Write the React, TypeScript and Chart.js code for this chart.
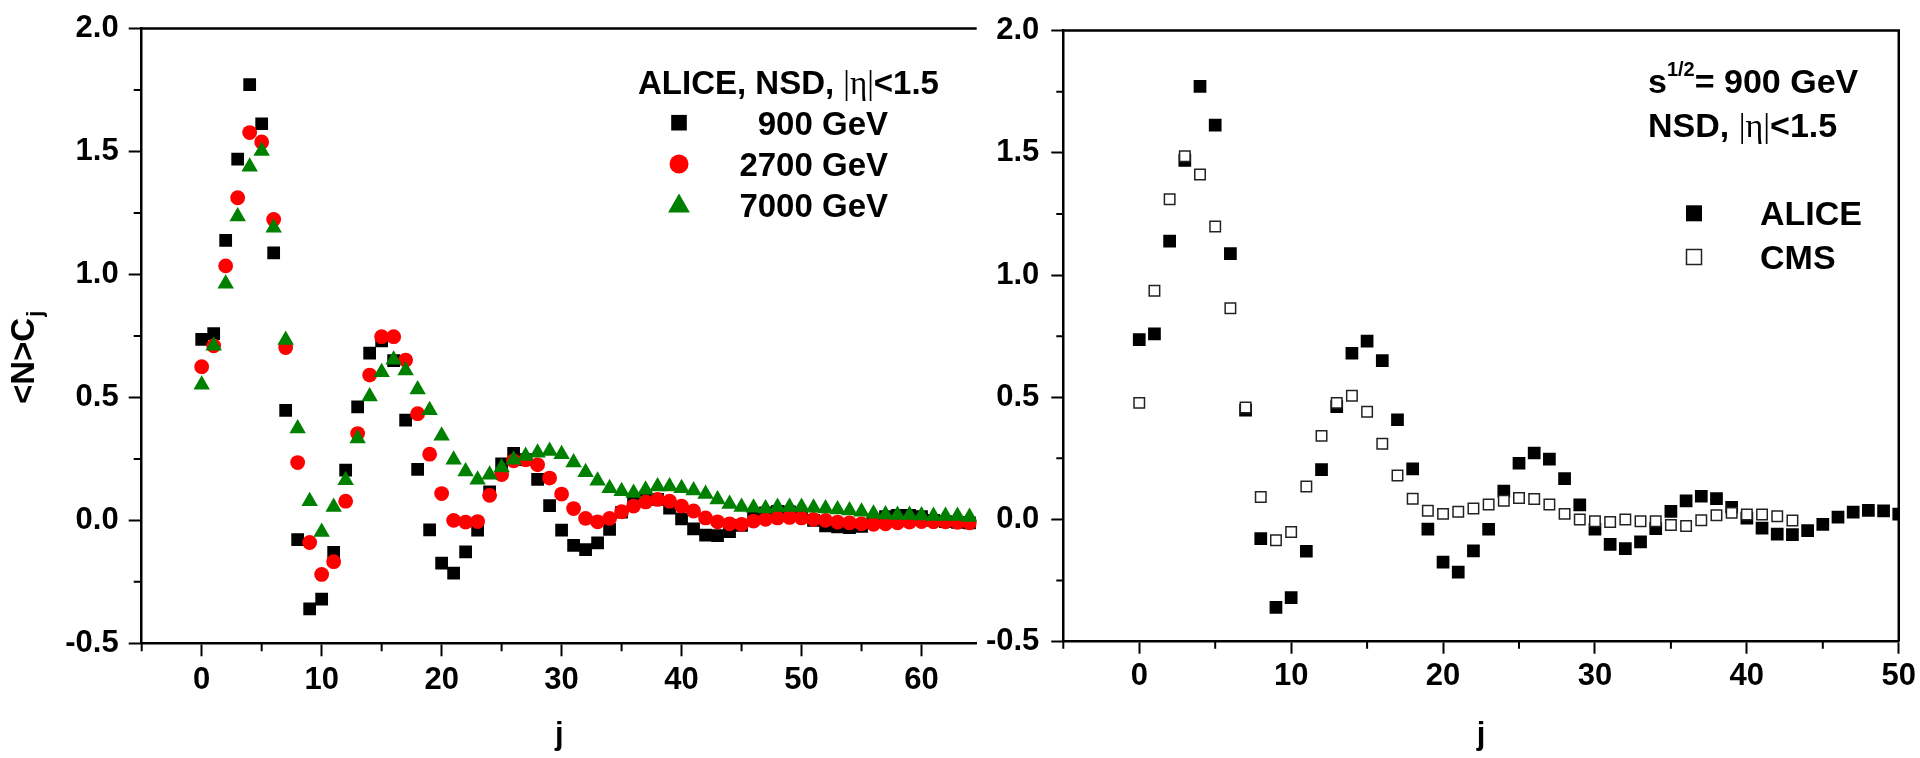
import React, { useEffect, useRef } from 'react';
import { Chart, registerables } from 'chart.js';

Chart.register(...registerables);

const FONT = "'Liberation Sans', Arial, Helvetica, sans-serif";
const SERIF = "'Liberation Serif', 'Times New Roman', serif";

// <N>C_j values, index = j
const ALICE_900 = [
  0.736, 0.759, 1.139, 1.469, 1.772, 1.613, 1.088, 0.447, -0.078, -0.36,
  -0.32, -0.13, 0.204, 0.462, 0.68, 0.73, 0.65, 0.408, 0.207, -0.039,
  -0.174, -0.215, -0.128, -0.04, 0.116, 0.23, 0.272, 0.247, 0.167, 0.06,
  -0.04, -0.102, -0.119, -0.092, -0.037, 0.033, 0.076, 0.095, 0.085, 0.05,
  0.006, -0.035, -0.06, -0.062, -0.046, -0.02, 0.01, 0.03, 0.037, 0.035,
  0.022, 0.0, -0.022, -0.027, -0.03, -0.025, -0.005, 0.015, 0.02, 0.02,
  0.015, 0.0, -0.005, -0.008, -0.01,
];

const ALICE_2700 = [
  0.625, 0.71, 1.035, 1.312, 1.577, 1.539, 1.224, 0.703, 0.235, -0.09,
  -0.22, -0.168, 0.078, 0.353, 0.591, 0.747, 0.747, 0.652, 0.434, 0.269,
  0.109, 0.0, -0.007, -0.005, 0.102, 0.186, 0.242, 0.246, 0.226, 0.172,
  0.107, 0.048, 0.008, -0.006, 0.008, 0.035, 0.058, 0.075, 0.085, 0.078,
  0.058, 0.038, 0.01, -0.006, -0.014, -0.016, -0.003, 0.004, 0.01, 0.012,
  0.01, 0.004, 0.0, -0.007, -0.01, -0.014, -0.016, -0.014, -0.01, -0.007,
  -0.005, -0.006, -0.006, -0.008, -0.01,
];

const ALICE_7000 = [
  0.552, 0.71, 0.962, 1.236, 1.438, 1.502, 1.19, 0.734, 0.374, 0.078,
  -0.047, 0.054, 0.163, 0.333, 0.504, 0.602, 0.653, 0.609, 0.532, 0.448,
  0.344, 0.246, 0.199, 0.165, 0.186, 0.215, 0.246, 0.262, 0.275, 0.282,
  0.269, 0.235, 0.196, 0.161, 0.131, 0.118, 0.111, 0.125, 0.138, 0.138,
  0.131, 0.121, 0.107, 0.085, 0.067, 0.054, 0.051, 0.048, 0.054, 0.054,
  0.054, 0.051, 0.048, 0.044, 0.04, 0.035, 0.027, 0.024, 0.022, 0.022,
  0.02, 0.018, 0.018, 0.018, 0.014,
];

const CMS_900 = [
  0.477, 0.936, 1.31, 1.486, 1.411, 1.199, 0.864, 0.458, 0.092, -0.085,
  -0.051, 0.135, 0.342, 0.477, 0.506, 0.441, 0.31, 0.18, 0.085, 0.036,
  0.023, 0.032, 0.045, 0.061, 0.077, 0.088, 0.084, 0.061, 0.023, 0.0,
  -0.007, -0.01, 0.0, -0.007, -0.007, -0.023, -0.027, -0.003, 0.017, 0.027,
  0.02, 0.02, 0.013, -0.004,
];

const LEFT_SERIES_LABELS = ['900 GeV', '2700 GeV', '7000 GeV'];
const LEFT_TITLE = ['ALICE, NSD, ', '|\u03b7|', '<1.5'];
const RIGHT_SERIES_LABELS = ['ALICE', 'CMS'];
const RIGHT_MAX_J = 50;

const X_STEP = 5;
const X_LABEL_STEP = 10;
const Y_MIN = -0.5;
const Y_MAX = 2.0;
const Y_STEP = 0.25;

const toXY = (vals: number[]) => vals.map((v, i) => ({ x: i, y: v }));

const isMajorX = (v: number) => Math.abs(v / X_LABEL_STEP - Math.round(v / X_LABEL_STEP)) < 1e-6;
const isMajorY = (v: number) => Math.abs(v * 2 - Math.round(v * 2)) < 1e-6;

const tickFont = { family: FONT, size: 31, weight: 'bold' as const };

function xScale(min: number, max: number, height: number, pad: number, tl: number) {
  return {
    type: 'linear',
    min,
    max,
    afterFit: (s: any) => {
      s.height = height;
    },
    ticks: {
      stepSize: X_STEP,
      includeBounds: false,
      autoSkip: false,
      maxRotation: 0,
      padding: pad,
      color: '#000',
      font: tickFont,
      callback: (v: any) => (isMajorX(Number(v)) ? String(Math.round(Number(v))) : ''),
    },
    grid: {
      display: true,
      drawOnChartArea: false,
      drawTicks: true,
      tickLength: tl,
      tickWidth: 2,
      color: 'rgba(0,0,0,0)',
      tickColor: (c: any) => (c.tick && isMajorX(c.tick.value) ? '#000' : 'rgba(0,0,0,0)'),
    },
    border: { display: true, color: '#000', width: 2.5 },
    title: {
      display: true,
      text: 'j',
      color: '#000',
      font: { family: FONT, size: 31, weight: 'bold' as const },
      padding: { top: 0, bottom: 4 },
    },
  };
}

function yScale(width: number, pad: number, tl: number) {
  return {
    type: 'linear',
    min: Y_MIN,
    max: Y_MAX,
    afterFit: (s: any) => {
      s.width = width;
    },
    ticks: {
      stepSize: Y_STEP,
      includeBounds: false,
      autoSkip: false,
      padding: pad,
      color: '#000',
      font: tickFont,
      callback: (v: any) => (isMajorY(Number(v)) ? Number(v).toFixed(1) : ''),
    },
    grid: {
      display: true,
      drawOnChartArea: false,
      drawTicks: true,
      tickLength: tl,
      tickWidth: 2,
      color: 'rgba(0,0,0,0)',
      tickColor: (c: any) => (c.tick && isMajorY(c.tick.value) ? '#000' : 'rgba(0,0,0,0)'),
    },
    border: { display: true, color: '#000', width: 2.5 },
  };
}

type Seg = { t: string; font: string; dy?: number };
function drawSegs(ctx: CanvasRenderingContext2D, segs: Seg[], x: number, y: number) {
  let cx = x;
  for (const s of segs) {
    ctx.font = s.font;
    ctx.fillText(s.t, cx, y + (s.dy || 0));
    cx += ctx.measureText(s.t).width;
  }
}

function drawFrameAndMinor(chart: any, rightBorder: boolean, minorLen: number) {
  const ctx: CanvasRenderingContext2D = chart.ctx;
  const { left, right, top, bottom } = chart.chartArea;
  ctx.save();
  ctx.strokeStyle = '#000';
  ctx.lineWidth = 2.5;
  ctx.beginPath();
  ctx.moveTo(left - 1.25, top);
  ctx.lineTo(right + (rightBorder ? 1.25 : 0), top);
  if (rightBorder) {
    ctx.moveTo(right, top);
    ctx.lineTo(right, bottom);
  }
  ctx.stroke();

  ctx.lineWidth = 2;
  ctx.beginPath();
  const xs = chart.scales.x;
  xs.ticks.forEach((t: any) => {
    if (!isMajorX(t.value)) {
      const px = xs.getPixelForValue(t.value);
      ctx.moveTo(px, bottom);
      ctx.lineTo(px, bottom + minorLen);
    }
  });
  const ys = chart.scales.y;
  ys.ticks.forEach((t: any) => {
    if (!isMajorY(t.value)) {
      const py = ys.getPixelForValue(t.value);
      ctx.moveTo(left, py);
      ctx.lineTo(left - minorLen, py);
    }
  });
  ctx.stroke();
  ctx.restore();
}

const leftDecor = {
  id: 'leftDecor',
  afterDraw(chart: any) {
    drawFrameAndMinor(chart, false, 8);
    const ctx: CanvasRenderingContext2D = chart.ctx;
    ctx.save();
    ctx.fillStyle = '#000';
    ctx.textBaseline = 'alphabetic';
    ctx.textAlign = 'left';
    const bold = `bold 33px ${FONT}`;
    drawSegs(
      ctx,
      [
        { t: LEFT_TITLE[0], font: bold },
        { t: LEFT_TITLE[1], font: `33px ${SERIF}` },
        { t: LEFT_TITLE[2], font: bold },
      ],
      638,
      94
    );
    // entries
    ctx.textAlign = 'right';
    ctx.font = bold;
    ctx.fillText(LEFT_SERIES_LABELS[0], 888, 135);
    ctx.fillText(LEFT_SERIES_LABELS[1], 888, 176);
    ctx.fillText(LEFT_SERIES_LABELS[2], 888, 217);
    // markers
    const mx = 679;
    ctx.fillStyle = '#000';
    ctx.fillRect(mx - 7.8, 122.7 - 7.8, 15.6, 15.6);
    ctx.fillStyle = '#ff0000';
    ctx.beginPath();
    ctx.arc(mx, 164, 9.5, 0, Math.PI * 2);
    ctx.fill();
    ctx.fillStyle = '#008000';
    ctx.beginPath();
    ctx.moveTo(mx, 193.6);
    ctx.lineTo(mx + 10.9, 212.4);
    ctx.lineTo(mx - 10.9, 212.4);
    ctx.closePath();
    ctx.fill();

    // y axis title <N>C_j
    ctx.translate(33.5, 404);
    ctx.rotate(-Math.PI / 2);
    ctx.textAlign = 'left';
    ctx.fillStyle = '#000';
    ctx.font = bold;
    ctx.fillText('<N>C', 0, 0);
    const w = ctx.measureText('<N>C').width;
    ctx.font = `bold 22px ${FONT}`;
    ctx.fillText('j', w + 1, 8);
    ctx.restore();
  },
};

const RIGHT_OFFSET = 980;
const rightDecor = {
  id: 'rightDecor',
  afterDraw(chart: any) {
    drawFrameAndMinor(chart, true, 7);
    const ctx: CanvasRenderingContext2D = chart.ctx;
    const o = RIGHT_OFFSET;
    ctx.save();
    ctx.fillStyle = '#000';
    ctx.textBaseline = 'alphabetic';
    ctx.textAlign = 'left';
    const bold = `bold 34px ${FONT}`;
    drawSegs(
      ctx,
      [
        { t: 's', font: bold },
        { t: '1/2', font: `bold 20px ${FONT}`, dy: -17.5 },
        { t: '= 900 GeV', font: bold },
      ],
      1648 - o,
      93
    );
    drawSegs(
      ctx,
      [
        { t: 'NSD, ', font: bold },
        { t: '|\u03b7|', font: `34px ${SERIF}` },
        { t: '<1.5', font: bold },
      ],
      1648 - o,
      137
    );
    ctx.font = bold;
    ctx.fillText(RIGHT_SERIES_LABELS[0], 1760 - o, 225);
    ctx.fillText(RIGHT_SERIES_LABELS[1], 1760 - o, 269);
    const mx = 1694 - o;
    ctx.fillRect(mx - 8, 213.3 - 8, 16, 16);
    ctx.fillStyle = '#fff';
    ctx.strokeStyle = '#222';
    ctx.lineWidth = 1.5;
    ctx.fillRect(mx - 7.5, 257 - 7.5, 15, 15);
    ctx.strokeRect(mx - 7.5, 257 - 7.5, 15, 15);
    ctx.restore();
  },
};

function useChart(ref: React.RefObject<HTMLCanvasElement | null>, build: () => any) {
  useEffect(() => {
    if (!ref.current) return;
    const chart = new Chart(ref.current, build());
    return () => chart.destroy();
  }, []);
}

export default function App() {
  const leftRef = useRef<HTMLCanvasElement | null>(null);
  const rightRef = useRef<HTMLCanvasElement | null>(null);

  useChart(leftRef, () => ({
    type: 'scatter',
    data: {
      datasets: [
        {
          label: LEFT_SERIES_LABELS[0],
          data: toXY(ALICE_900),
          pointStyle: 'rect',
          pointRadius: 9,
          pointBackgroundColor: '#000',
          backgroundColor: '#000',
          pointBorderWidth: 0,
          borderWidth: 0,
          order: 3,
          clip: 0,
        },
        {
          label: LEFT_SERIES_LABELS[1],
          data: toXY(ALICE_2700),
          pointStyle: 'circle',
          pointRadius: 7.4,
          pointBackgroundColor: '#ff0000',
          backgroundColor: '#ff0000',
          pointBorderWidth: 0,
          borderWidth: 0,
          order: 2,
          clip: 0,
        },
        {
          label: LEFT_SERIES_LABELS[2],
          data: toXY(ALICE_7000),
          pointStyle: 'triangle',
          pointRadius: 9.5,
          pointBackgroundColor: '#008000',
          backgroundColor: '#008000',
          pointBorderWidth: 0,
          borderWidth: 0,
          order: 1,
          clip: 0,
        },
      ],
    },
    options: {
      responsive: false,
      animation: false,
      events: [],
      layout: { padding: { left: 0, top: 23.3, right: 3.3, bottom: 0 }, autoPadding: false },
      plugins: { legend: { display: false }, tooltip: { enabled: false } },
      scales: {
        x: xScale(-5, 64.6, 114.7, 6, 13),
        y: yScale(141.7, 10, 13),
      },
    },
    plugins: [leftDecor],
  }));

  useChart(rightRef, () => ({
    type: 'scatter',
    data: {
      datasets: [
        {
          label: RIGHT_SERIES_LABELS[0],
          data: toXY(ALICE_900.slice(0, RIGHT_MAX_J + 1)),
          pointStyle: 'rect',
          pointRadius: 9,
          pointBackgroundColor: '#000',
          backgroundColor: '#000',
          pointBorderWidth: 0,
          borderWidth: 0,
          order: 2,
          clip: 0,
        },
        {
          label: RIGHT_SERIES_LABELS[1],
          data: toXY(CMS_900),
          pointStyle: 'rect',
          pointRadius: 7.4,
          pointBackgroundColor: '#fff',
          backgroundColor: '#fff',
          pointBorderColor: '#222',
          borderColor: '#222',
          pointBorderWidth: 1.5,
          borderWidth: 1.5,
          order: 1,
          clip: 0,
        },
      ],
    },
    options: {
      responsive: false,
      animation: false,
      events: [],
      layout: { padding: { left: 0, top: 24, right: 20, bottom: 0 }, autoPadding: false },
      plugins: { legend: { display: false }, tooltip: { enabled: false } },
      scales: {
        x: xScale(-5, RIGHT_MAX_J, 116.3, 4, 12),
        y: yScale(83.3, 12, 12),
      },
    },
    plugins: [rightDecor],
  }));

  return (
    <div
      style={{
        position: 'absolute',
        left: 0,
        top: 0,
        width: 1920,
        height: 758,
        background: '#fff',
        overflow: 'hidden',
      }}
    >
      <canvas
        ref={leftRef}
        width={980}
        height={758}
        style={{ position: 'absolute', left: 0, top: 0, width: 980, height: 758 }}
      />
      <canvas
        ref={rightRef}
        width={940}
        height={758}
        style={{ position: 'absolute', left: RIGHT_OFFSET, top: 0, width: 940, height: 758 }}
      />
    </div>
  );
}
